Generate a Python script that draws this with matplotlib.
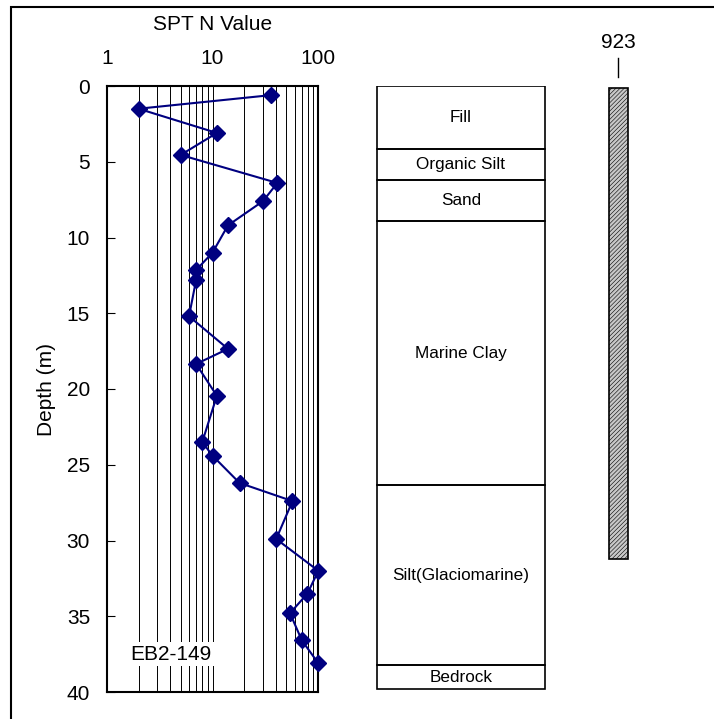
#!/usr/bin/env python3

import numpy as np
import matplotlib.pyplot as plt
from matplotlib.patches import Rectangle

plt.rcParams['font.family'] = ['Liberation Sans', 'DejaVu Sans']
plt.rcParams['hatch.color'] = '#8a8a8a'
plt.rcParams['hatch.linewidth'] = 0.4

# SPT blow counts vs depth
depth = [0.6, 1.5, 3.1, 4.55, 6.4, 7.6, 9.2, 11.0, 12.15, 12.8, 15.2,
         17.35, 18.35, 20.45, 23.5, 24.4, 26.2, 27.4, 29.9, 32.0, 33.5,
         34.8, 36.6, 38.1]
spt_n = [36, 2, 11, 5, 41, 30, 14, 10, 7, 7, 6,
         14, 7, 11, 8, 10, 18, 57, 40, 100, 79,
         54, 70, 100]

# soil profile
layer_names = ['Fill', 'Organic Silt', 'Sand', 'Marine Clay',
               'Silt(Glaciomarine)', 'Bedrock']
layer_top = [0.0, 4.15, 6.2, 8.9, 26.35, 38.25]
layer_bot = [4.15, 6.2, 8.9, 26.35, 38.25, 39.8]

# instrument / pile bar
bar_label = '923'
bar_top = 0.1
bar_bot = 31.2

borehole = 'EB2-149'

W, H = 714, 719
fig = plt.figure(figsize=(W / 100, H / 100), dpi=100)

# outer frame (runs past the right/bottom edges)
fig.patches.append(Rectangle((11 / W, -0.1), 1.2, 1 - 7 / H + 0.1,
                             transform=fig.transFigure, fill=False,
                             edgecolor='black', linewidth=1.5))

ax_b = 1 - 692 / H
ax_h = (692 - 86) / H
ax = fig.add_axes([106.7 / W, ax_b, (318.3 - 106.7) / W, ax_h])

ax.plot(spt_n, depth, color='#000080', linewidth=1.5,
        marker='D', markersize=8, zorder=5, clip_on=False)

ax.set_xscale('log')
ax.set_xlim(1, 100)
ax.set_ylim(40, 0)
ax.set_yticks(np.arange(0, 41, 5))
ax.set_xticks([1, 10, 100])
ax.set_xticklabels(['1', '10', '100'])
ax.xaxis.tick_top()
ax.xaxis.set_label_position('top')
ax.tick_params(axis='x', which='both', length=0, pad=13, labelsize=15)
ax.tick_params(axis='y', direction='in', length=6, width=0.8,
               pad=12, labelsize=15)
ax.set_xlabel('SPT N Value', fontsize=15, labelpad=14)
ax.set_ylabel('Depth (m)', fontsize=15, labelpad=8)
ax.grid(True, which='both', axis='x', color='black', linewidth=0.7)
for s in ax.spines.values():
    s.set_linewidth(1.5)

ax.text(4, 37.5, borehole, fontsize=15, ha='center', va='center',
        bbox=dict(facecolor='white', edgecolor='none', pad=2), zorder=4)

# overlay for soil column and bar, x in pixel units
ov = fig.add_axes([0, ax_b, 1, ax_h])
ov.set_xlim(0, W)
ov.set_ylim(40, 0)
ov.axis('off')

col_l, col_r = 376.7, 545
for name, t, b in zip(layer_names, layer_top, layer_bot):
    ov.add_patch(Rectangle((col_l, t), col_r - col_l, b - t, fill=False,
                           edgecolor='black', linewidth=1.2))
    ov.text((col_l + col_r) / 2, (t + b) / 2, name, fontsize=12.3,
            ha='center', va='center')

bar_l, bar_r = 609, 627.5
ov.add_patch(Rectangle((bar_l, bar_top), bar_r - bar_l, bar_bot - bar_top,
                       facecolor='#c8c8c8', edgecolor='black',
                       linewidth=1.2, hatch='////////'))
bx = (bar_l + bar_r) / 2
ov.plot([bx, bx], [-1.85, -0.6], color='black', linewidth=1,
        clip_on=False)
ov.text(bx, -2.9, bar_label, fontsize=15, ha='center', va='center',
        clip_on=False)

plt.savefig('out.png', dpi=100)
